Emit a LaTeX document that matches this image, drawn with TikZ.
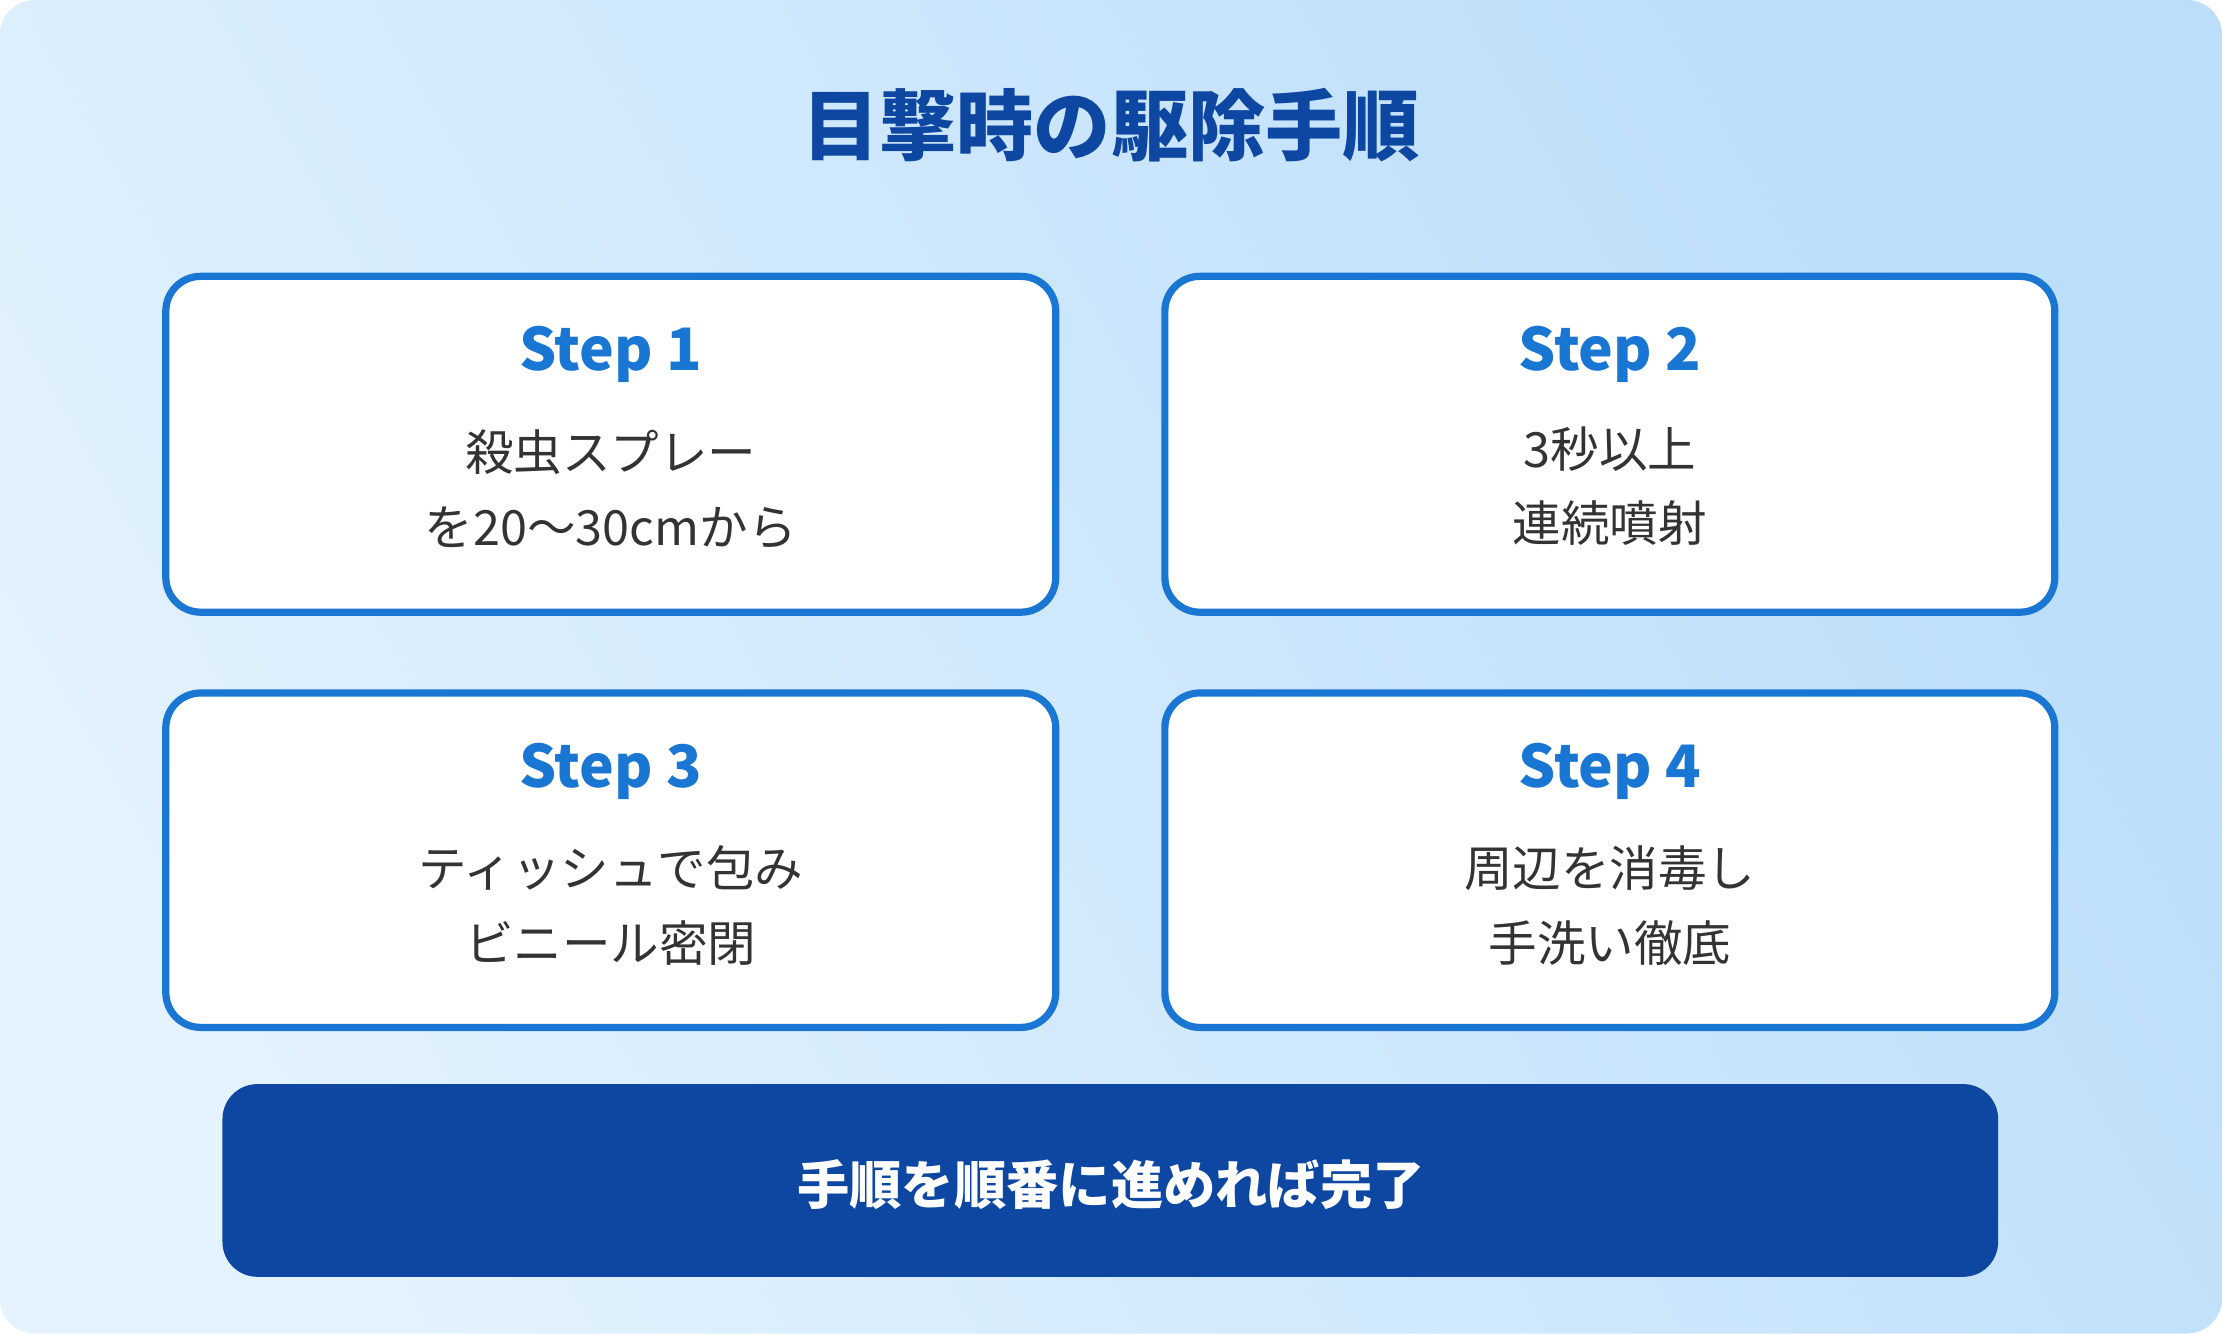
\documentclass[tikz,border=0pt]{standalone}
\usepackage{fontspec}
\setmainfont{Noto Sans CJK JP}
\definecolor{bgA}{HTML}{E3F2FD}
\definecolor{bgB}{HTML}{BBDEFB}
\definecolor{blueM}{HTML}{1976D2}
\definecolor{blueD}{HTML}{0D47A1}
\definecolor{txt}{HTML}{333333}
\begin{document}
\begin{tikzpicture}[x=0.02cm,y=-0.02cm,
 card/.style={draw=blueM,line width=2.9pt,fill=white,rounded corners=14pt},
 head/.style={text=blueM,font=\fontsize{23.5}{28}\selectfont\bfseries},
 body/.style={text=txt,font=\fontsize{19.5}{30}\selectfont,align=center}]
\useasboundingbox (0,0) rectangle (1568,941);
\shade[left color=bgB,right color=bgA,shading angle=-60,rounded corners=14pt] (0,0) rectangle (1568,941);
\node[text=blueD,font=\fontsize{31}{36}\selectfont\bfseries] (title) at (784,88) {目撃時の駆除手順};
\draw[card] (117,195) rectangle (745,432);
\draw[card] (822,195) rectangle (1450,432);
\draw[card] (117,489) rectangle (745,725);
\draw[card] (822,489) rectangle (1450,725);
\node[head] (h1) at (431,250) {Step 1};
\node[head] (h2) at (1136,250) {Step 2};
\node[head] (h3) at (431,544) {Step 3};
\node[head] (h4) at (1136,544) {Step 4};
\node[body] (b1) at (431,345) {殺虫スプレー\\を20～30cmから};
\node[body] (b2) at (1136,343) {3秒以上\\連続噴射};
\node[body] (b3) at (431,639) {ティッシュで包み\\ビニール密閉};
\node[body] (b4) at (1136,639) {周辺を消毒し\\手洗い徹底};
\fill[blueD,rounded corners=14pt] (157,765) rectangle (1410,901);
\node[text=white,font=\fontsize{21}{26}\selectfont\bfseries] (bar) at (784,836) {手順を順番に進めれば完了};
\end{tikzpicture}
\end{document}
